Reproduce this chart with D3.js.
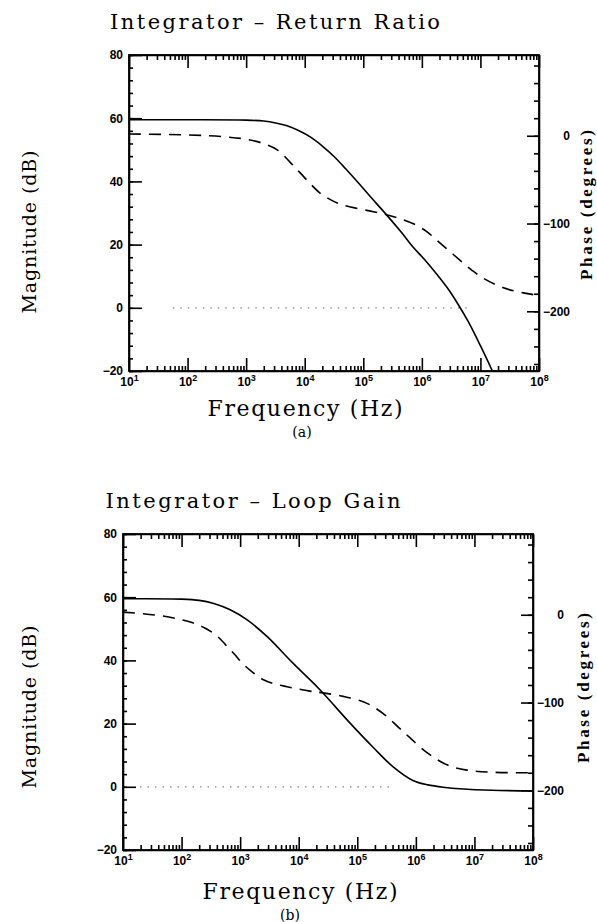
<!DOCTYPE html>
<html>
<head>
<meta charset="utf-8">
<script src="https://cdn.jsdelivr.net/npm/d3@7"></script>
<style>
  body { margin: 0; background: #fff; }
  .axis path, .axis line { stroke: #000; stroke-width: 1.6; }
  .tick text { font-family: "Liberation Sans", Arial, sans-serif; font-weight: bold; font-size: 12px; fill: #000; }
  .title, .xlabel, .ylabel { font-family: "DejaVu Serif", serif; fill: #000; }
  .plabel { font-family: "Liberation Serif", "Times New Roman", serif; font-weight: bold; fill: #000; }
</style>
</head>
<body>
<div id="chart"></div>
<script>
// ---- data ----
var titles = ["Integrator \u2013 Return Ratio", "Integrator \u2013 Loop Gain"];
var captions = ["(a)", "(b)"];

var decadeTicks = [1e1, 1e2, 1e3, 1e4, 1e5, 1e6, 1e7, 1e8];
var magTicks = [-20, 0, 20, 40, 60, 80];
var phaseTicks = [-200, -100, 0];

// (a) return ratio, magnitude (solid)
var rrMagHz = [10, 100, 1000, 2000, 3200, 5000, 8000, 1.26e4, 2e4, 3.2e4, 5e4, 8e4, 1.26e5, 2.5e5, 4.5e5, 7e5, 1.12e6, 1.8e6, 2.7e6, 4e6, 6.2e6, 1e7, 1.6e7];
var rrMagDb = [59.5, 59.5, 59.4, 59.1, 58.5, 57.6, 56.0, 54.0, 51.2, 47.8, 44.0, 39.8, 35.6, 29.4, 23.8, 19.3, 15.2, 10.6, 6.4, 1.6, -4.4, -12.0, -20];
// (a) return ratio, phase (dashed)
var rrPhHz = [10, 100, 470, 1000, 2000, 3400, 5600, 8300, 1.26e4, 1.8e4, 2.8e4, 4.5e4, 1.15e5, 2.5e5, 4.5e5, 8.1e5, 1.26e6, 1.8e6, 2.8e6, 4.5e6, 7.1e6, 1.1e7, 2.4e7, 5.4e7, 1e8];
var rrPhDeg = [2, 1, -1.4, -4, -9, -16, -30, -42, -55, -65, -73, -79, -85, -90, -95, -102, -110, -119, -130, -142, -153, -162, -173, -179, -182];

// (b) loop gain, magnitude (solid)
var lgMagHz = [10, 100, 200, 355, 676, 1320, 2900, 7900, 2.3e4, 7.4e4, 1.86e5, 4.1e5, 8.9e5, 1.6e6, 3.2e6, 5.6e6, 2e7, 1e8];
var lgMagDb = [59.5, 59.4, 59.0, 58.0, 56.0, 52.8, 47.5, 39.2, 30.7, 20.3, 12.5, 6.3, 2.0, 0.6, -0.2, -0.6, -1.1, -1.3];
// (b) loop gain, phase (dashed)
var lgPhHz = [10, 43, 105, 160, 250, 400, 560, 800, 1120, 1600, 2500, 4000, 6300, 1.55e4, 2.6e4, 5.8e4, 1.26e5, 2e5, 3.2e5, 5e5, 7.9e5, 1.55e6, 3.4e6, 7.4e6, 2.1e7, 1e8];
var lgPhDeg = [3, -1, -6, -9.5, -15, -24, -34, -45, -56, -65, -74, -79, -82, -87, -89, -93, -99, -106, -116, -128, -140, -157, -171, -177, -179.5, -180];

// dotted 0 dB reference span
var rrZeroHz = [56, 6.2e6];
var lgZeroHz = [19.5, 4e5];

// ---- layout ----
var w = 597, h = 922;
var panels = [
    { left: 129, right: 539, top: 55, bottom: 371, titleX: 275, titleY: 29, titleLen: 330, xlabX: 305, xlabY: 416, capY: 437, capX: 302, ylabY: 232, plabX: 592, plabY: 205,
      magHz: rrMagHz, magDb: rrMagDb, phHz: rrPhHz, phDeg: rrPhDeg, zeroHz: rrZeroHz },
    { left: 123, right: 533, top: 534, bottom: 850, titleX: 253, titleY: 508, titleLen: 295, xlabX: 300, xlabY: 899, capY: 920, capX: 290, ylabY: 707, plabX: 589, plabY: 688,
      magHz: lgMagHz, magDb: lgMagDb, phHz: lgPhHz, phDeg: lgPhDeg, zeroHz: lgZeroHz }
];

var svg = d3.select("#chart").append("svg")
    .attr("width", w)
    .attr("height", h);

function minorLogTicks() {
    var out = [];
    for (var e = 1; e < 8; e++) {
        for (var m = 2; m <= 9; m++) out.push(m * Math.pow(10, e));
    }
    return out;
}

panels.forEach(function (p, i) {
    var x = d3.scaleLog().domain([1e1, 1e8]).range([p.left, p.right]);
    var y = d3.scaleLinear().domain([-20, 80]).range([p.bottom, p.top]);
    var yp = d3.scaleLinear().domain([-268, 92]).range([p.bottom, p.top]);

    var g = svg.append("g");
    var clipId = "clip" + i;
    svg.append("clipPath").attr("id", clipId).append("rect")
        .attr("x", p.left).attr("y", p.top)
        .attr("width", p.right - p.left).attr("height", p.bottom - p.top);

    // minor ticks
    g.append("g").attr("class", "axis")
        .attr("transform", "translate(0," + p.bottom + ")")
        .call(d3.axisTop(x).tickValues(minorLogTicks()).tickSize(5).tickFormat(""))
        .select(".domain").remove();
    g.append("g").attr("class", "axis")
        .attr("transform", "translate(0," + p.top + ")")
        .call(d3.axisBottom(x).tickValues(minorLogTicks()).tickSize(5).tickFormat(""))
        .select(".domain").remove();
    g.append("g").attr("class", "axis")
        .attr("transform", "translate(" + p.left + ",0)")
        .call(d3.axisRight(y).tickValues(d3.range(-20, 81, 4)).tickSize(4).tickFormat(""))
        .select(".domain").remove();
    g.append("g").attr("class", "axis")
        .attr("transform", "translate(" + p.right + ",0)")
        .call(d3.axisLeft(yp).tickValues(d3.range(-260, 91, 20)).tickSize(5).tickFormat(""))
        .select(".domain").remove();

    // major ticks + labels
    var xb = g.append("g").attr("class", "axis")
        .attr("transform", "translate(0," + p.bottom + ")")
        .call(d3.axisBottom(x).tickValues(decadeTicks).tickSizeInner(-13).tickSizeOuter(0).tickPadding(6)
            .tickFormat(function (d) { return ""; }));
    xb.selectAll(".tick text").each(function (d) {
        var t = d3.select(this);
        var e = Math.round(Math.log10(d));
        t.append("tspan").text("10");
        t.append("tspan").attr("dy", -5).style("font-size", "9px").text(e);
    });
    g.append("g").attr("class", "axis")
        .attr("transform", "translate(0," + p.top + ")")
        .call(d3.axisTop(x).tickValues(decadeTicks).tickSizeInner(-13).tickSizeOuter(0).tickFormat(""));
    g.append("g").attr("class", "axis")
        .attr("transform", "translate(" + p.left + ",0)")
        .call(d3.axisLeft(y).tickValues(magTicks).tickSizeInner(-13).tickSizeOuter(0).tickPadding(6)
            .tickFormat(function (d) { return d < 0 ? "\u2212" + (-d) : d; }));
    var ra = g.append("g").attr("class", "axis")
        .attr("transform", "translate(" + p.right + ",0)")
        .call(d3.axisRight(yp).tickValues(phaseTicks).tickSizeInner(-12).tickSizeOuter(0)
            .tickFormat(function (d) { return d < 0 ? "\u2212" + (-d) : d; }));
    ra.selectAll(".tick text").attr("text-anchor", "end").attr("x", 31);

    // dotted 0 dB line
    g.append("line")
        .attr("x1", x(p.zeroHz[0])).attr("x2", x(p.zeroHz[1]))
        .attr("y1", y(0)).attr("y2", y(0))
        .attr("stroke", "#888").attr("stroke-width", 1.2)
        .attr("stroke-dasharray", "1.5,6");

    // curves
    var magLine = d3.line()
        .x(function (d) { return x(d[0]); })
        .y(function (d) { return y(d[1]); })
        .curve(d3.curveCatmullRom.alpha(0.5));
    var phLine = d3.line()
        .x(function (d) { return x(d[0]); })
        .y(function (d) { return yp(d[1]); })
        .curve(d3.curveCatmullRom.alpha(0.5));

    g.append("path")
        .datum(d3.zip(p.magHz, p.magDb))
        .attr("clip-path", "url(#" + clipId + ")")
        .attr("d", magLine)
        .attr("fill", "none").attr("stroke", "#000").attr("stroke-width", 1.6);
    g.append("path")
        .datum(d3.zip(p.phHz, p.phDeg))
        .attr("clip-path", "url(#" + clipId + ")")
        .attr("d", phLine)
        .attr("fill", "none").attr("stroke", "#000").attr("stroke-width", 1.6)
        .attr("stroke-dasharray", "12,8");

    // frame
    g.append("rect")
        .attr("x", p.left).attr("y", p.top)
        .attr("width", p.right - p.left).attr("height", p.bottom - p.top)
        .attr("fill", "none").attr("stroke", "#000").attr("stroke-width", 1.8);

    /* TEXT */
    g.append("text").attr("class", "title")
        .attr("x", p.titleX).attr("y", p.titleY)
        .attr("text-anchor", "middle").style("font-size", "21px")
        .attr("textLength", p.titleLen).attr("lengthAdjust", "spacing")
        .text(titles[i]);
    g.append("text").attr("class", "xlabel")
        .attr("x", p.xlabX).attr("y", p.xlabY)
        .attr("text-anchor", "middle").style("font-size", "22px")
        .attr("textLength", 195).attr("lengthAdjust", "spacing")
        .text("Frequency (Hz)");
    g.append("text").attr("class", "xlabel")
        .attr("x", p.capX).attr("y", p.capY)
        .attr("text-anchor", "middle").style("font-size", "14px")
        .text(captions[i]);
    g.append("text").attr("class", "ylabel")
        .attr("transform", "translate(36," + p.ylabY + ") rotate(-90)")
        .attr("text-anchor", "middle").style("font-size", "19px")
        .attr("textLength", 163).attr("lengthAdjust", "spacing")
        .text("Magnitude (dB)");
    g.append("text").attr("class", "plabel")
        .attr("transform", "translate(" + p.plabX + "," + p.plabY + ") rotate(-90)")
        .attr("text-anchor", "middle").style("font-size", "17px")
        .attr("textLength", 150).attr("lengthAdjust", "spacing")
        .text("Phase (degrees)");
});
</script>
</body>
</html>
